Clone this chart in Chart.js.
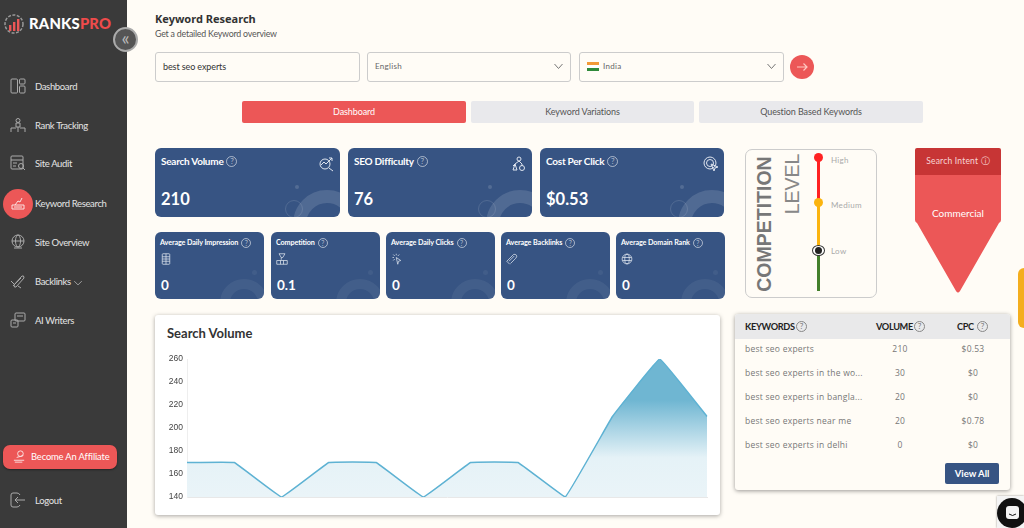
<!DOCTYPE html>
<html>
<head>
<meta charset="utf-8">
<script src="https://cdn.jsdelivr.net/npm/chart.js@4"></script>
<style>
html,body{margin:0;padding:0;}
body{width:1024px;height:528px;overflow:hidden;background:#fffcf6;font-family:Lato,sans-serif;position:relative;}
.abs,#page div,#page span,#page svg,#page canvas{position:absolute;}
.txt{white-space:nowrap;line-height:1;}
#sidebar{left:0;top:0;width:127px;height:528px;background:#3a3a3a;}
.menu{left:35px;color:#e4e4e4;font-size:9.5px;letter-spacing:-.35px;}
.box{background:#fffcf6;border:1px solid #ccc;border-radius:3px;box-sizing:border-box;}
.tab{top:101px;height:22px;border-radius:2px;font-size:9px;letter-spacing:-.1px;text-align:center;line-height:22px;background:#e9e9ec;color:#555;}
.card{background:#375483;border-radius:6px;overflow:hidden;color:#fff;}
.ring{border-radius:50%;box-sizing:border-box;border-style:solid;border-color:rgba(255,255,255,.13);}
.ringfaint{border-color:rgba(255,255,255,.06);}
.dot{border-radius:50%;background:rgba(255,255,255,.14);}
.help{border:1px solid rgba(255,255,255,.55);border-radius:50%;box-sizing:border-box;color:rgba(255,255,255,.6);text-align:center;}
.hdr{color:#222;font-size:9.2px;top:322px;font-weight:700;letter-spacing:-.35px;}
.qm{border:1px solid #888;border-radius:50%;box-sizing:border-box;color:#777;font-size:8px;width:11px;height:11px;text-align:center;line-height:9px;top:321px;}
.cell{color:#777;font-size:8.5px;font-family:"Open Sans",sans-serif;letter-spacing:.25px;}
</style>
</head>
<body>
<div id="page">
  <div id="sidebar"></div>
  <svg style="left:3px;top:13px" width="22" height="22" viewBox="0 0 22 22" fill="none">
    <circle cx="11" cy="11" r="9" stroke="#999" stroke-width="1.5" stroke-dasharray="3 1.5"/>
    <rect x="6" y="12" width="2.4" height="6" fill="#ec5757"/><rect x="10" y="9" width="2.4" height="9" fill="#ec5757"/><rect x="14" y="6" width="2.4" height="12" fill="#ec5757"/>
  </svg>
  <div class="txt" style="left:29px;top:16px;font-size:14.8px;font-weight:900;color:#fff;letter-spacing:.2px">RANKS<span style="position:static;color:#ee4b4b">PRO</span></div>
  <div style="left:113px;top:27px;width:25px;height:25px;border-radius:50%;background:#555;border:2px solid #aaa;box-sizing:border-box;color:#bbb;font-size:19px;line-height:18px;text-align:center">«</div>
  <div style="left:3px;top:189px;width:30px;height:30px;border-radius:50%;background:#ec5757"></div>
  <svg style="left:10px;top:196px" width="16" height="16" fill="none"><path d="M2 9 H14 V13 H2 Z M5 9 L8 5 L10 6 L12 2 M4 11 H12" stroke="#fbe3e3"/></svg>

  <div class="txt" style="left:155px;top:13px;font-size:11px;font-weight:700;color:#333;font-family:'Noto Sans',sans-serif">Keyword Research</div>
  <div class="txt" style="left:155px;top:30px;font-size:8.8px;color:#555;letter-spacing:-.2px">Get a detailed Keyword overview</div>

  <div class="box" style="left:155px;top:52px;width:205px;height:30px"></div>
  <div class="txt" style="left:163px;top:62px;font-size:9px;color:#333;letter-spacing:-.1px">best seo experts</div>
  <div class="box" style="left:367px;top:52px;width:204px;height:30px"></div>
  <div class="txt" style="left:375px;top:62px;font-size:8px;color:#666;letter-spacing:.3px">English</div>
  <svg style="left:553px;top:63px" width="11" height="7" fill="none"><path d="M1.5 1 L5.5 5.5 L9.5 1" stroke="#777"/></svg>
  <div class="box" style="left:579px;top:52px;width:205px;height:30px"></div>
  <div style="left:587px;top:62px;width:12px;height:3px;background:#f39a37"></div>
  <div style="left:587px;top:65px;width:12px;height:3px;background:#fff"></div>
  <div style="left:587px;top:68px;width:12px;height:3px;background:#2f8a3a"></div>
  <div class="txt" style="left:603px;top:62px;font-size:8px;color:#666;letter-spacing:.3px">India</div>
  <svg style="left:766px;top:63px" width="11" height="7" fill="none"><path d="M1.5 1 L5.5 5.5 L9.5 1" stroke="#777"/></svg>
  <div style="left:790px;top:55px;width:24px;height:24px;border-radius:50%;background:#ec5757"></div>
  <svg style="left:796px;top:61px" width="12" height="12" fill="none"><path d="M1 6 H11 M7.5 2.5 L11 6 L7.5 9.5" stroke="#ffc9c2" stroke-width="1.2"/></svg>

  <div class="tab" style="left:242px;width:224px;background:#ec5757;color:#fff">Dashboard</div>
  <div class="tab" style="left:471px;width:223px">Keyword Variations</div>
  <div class="tab" style="left:699px;width:224px">Question Based Keywords</div>

  <!-- competition level -->
  <div style="left:745px;top:149px;width:132px;height:149px;border:1px solid #ccc;border-radius:7px;box-sizing:border-box"></div>
  <div class="txt" style="left:765px;top:224px;font-size:19.5px;font-weight:700;color:#777;font-family:'Liberation Sans',sans-serif;transform:translate(-50%,-50%) rotate(-90deg);transform-origin:center">COMPETITION</div>
  <div class="txt" style="left:793px;top:184px;font-size:19.5px;color:#888;font-family:'Liberation Sans',sans-serif;transform:translate(-50%,-50%) rotate(-90deg);transform-origin:center">LEVEL</div>
  <div style="left:817px;top:157px;width:3px;height:45px;background:#f22"></div>
  <div style="left:817px;top:202px;width:3px;height:49px;background:#fbb40f"></div>
  <div style="left:817px;top:251px;width:3px;height:40px;background:#44802c"></div>
  <div style="left:814px;top:153px;width:9px;height:9px;border-radius:50%;background:#f22"></div>
  <div style="left:814px;top:198px;width:9px;height:9px;border-radius:50%;background:#fbb40f"></div>
  <div style="left:812px;top:245px;width:13px;height:11px;border-radius:50%;background:#fff;border:1px solid #333;box-sizing:border-box"></div>
  <div style="left:815px;top:247px;width:7px;height:7px;border-radius:50%;background:#222"></div>
  <div class="txt" style="left:831px;top:156px;font-size:8px;color:#aaa;letter-spacing:.3px">High</div>
  <div class="txt" style="left:831px;top:201px;font-size:8px;color:#aaa;letter-spacing:.3px">Medium</div>
  <div class="txt" style="left:831px;top:247px;font-size:8px;color:#aaa;letter-spacing:.3px">Low</div>

  <!-- search intent -->
  <svg style="left:915px;top:148px" width="86" height="146">
    <path d="M2 0 H84 Q86 0 86 2 V27 H0 V2 Q0 0 2 0 Z" fill="#c73535"/>
    <path d="M0 27 H86 V72 Q86 74 84 75 L45 143 Q43 146 41 143 L2 75 Q0 74 0 72 Z" fill="#ec5757"/>
  </svg>
  <div class="txt" style="left:915px;width:86px;text-align:center;top:157px;font-size:8.5px;color:#f8d5d5;letter-spacing:.2px">Search Intent ⓘ</div>
  <div class="txt" style="left:915px;width:86px;text-align:center;top:208px;font-size:10px;color:#fff">Commercial</div>
  <div style="left:1018px;top:268px;width:6px;height:60px;background:#f4ae1e;border-radius:6px 0 0 6px"></div>

  <!-- chart card -->
  <div style="left:155px;top:315px;width:565px;height:200px;background:#fff;box-shadow:0 1px 4px rgba(0,0,0,.35);border-radius:3px"></div>
  <div class="txt" style="left:167px;top:327px;font-size:13px;font-weight:700;color:#333">Search Volume</div>
  <canvas id="chart" width="565" height="165" style="left:155px;top:345px;width:565px;height:165px"></canvas>

  <!-- keyword table -->
  <div style="left:735px;top:314px;width:275px;height:176px;background:#fffcf6;box-shadow:0 1px 4px rgba(0,0,0,.4);border-radius:3px"></div>
  <div style="left:735px;top:314px;width:275px;height:25px;background:#e9e9ea;border-radius:3px 3px 0 0"></div>
  <div class="txt hdr" style="left:745px">KEYWORDS</div><div class="qm" style="left:796px">?</div>
  <div class="txt hdr" style="left:876px">VOLUME</div><div class="qm" style="left:914px">?</div>
  <div class="txt hdr" style="left:957px">CPC</div><div class="qm" style="left:977px">?</div>
  <div class="txt" style="left:945px;top:463px;width:54px;height:21px;background:#375483;color:#fff;border-radius:2px;font-size:9.5px;font-weight:700;text-align:center;line-height:21px">View All</div>

  <!-- recaptcha and chat bubble corner -->
  <div style="left:997px;top:496px;width:27px;height:32px;background:#f4f4f4;box-shadow:0 0 2px rgba(0,0,0,.4)"></div>
  <div style="left:997px;top:498px;width:30px;height:30px;border-radius:50%;background:#111"></div>
  <svg style="left:1005px;top:505px" width="15" height="15" fill="none"><rect x="1" y="1" width="13" height="13" rx="3" fill="#f5f5f5"/><path d="M4 9 Q7.5 12 11 9" stroke="#111"/></svg>
</div>

<script>
// chart data
let chartLabels = ["Jan","Feb","Mar","Apr","May","Jun","Jul","Aug","Sep","Oct","Nov","Dec"];
let chartValues = [170,170,140,170,170,140,170,170,140,210,260,210];
let yMin = 140;
let yMax = 260;
let yStep = 20;

// sidebar
let menuNames = ["Dashboard","Rank Tracking","Site Audit","Keyword Research","Site Overview","Backlinks","AI Writers","Logout"];
let menuRows = [87,126,164,204,243,282,321,501];

// cards
let bigNames = ["Search Volume","SEO Difficulty","Cost Per Click"];
let bigValues = ["210","76","$0.53"];
let bigLefts = [155,348,540];
let smallNames = ["Average Daily Impression","Competition","Average Daily Clicks","Average Backlinks","Average Domain Rank"];
let smallValues = ["0","0.1","0","0","0"];
let smallLefts = [155,271,386,501,616];

// table
let keywords = ["best seo experts","best seo experts in the wo...","best seo experts in bangla...","best seo experts near me","best seo experts in delhi"];
let volumes = ["210","30","20","20","0"];
let cpcs = ["$0.53","$0","$0","$0.78","$0"];
let tableRows = [350,374,398,422,446];

// outline icons, all on a 16 unit grid
let menuIcons = [
    '<rect x="1" y="1" width="6.5" height="14" rx="1"/><rect x="9.5" y="1" width="5.5" height="5" rx="1"/><rect x="9.5" y="8" width="5.5" height="7" rx="1"/>',
    '<circle cx="8" cy="3.5" r="2"/><path d="M6 6 H10 V10 H6 Z M1 15 V11 H6 M15 15 V11 H10 M8 10 V15"/>',
    '<rect x="1" y="1" width="12" height="13" rx="1"/><path d="M1 5 H13 M3 8 H7 M3 11 H6"/><circle cx="11" cy="11" r="2.5"/><path d="M13 13 L15 15"/>',
    '',
    '<circle cx="8" cy="7" r="6"/><ellipse cx="8" cy="7" rx="2.5" ry="6"/><path d="M2 7 H14 M4 14 H12"/>',
    '<path d="M3 13 L12 3 Q14 2 14 5 L6 14 Q4 15 4 12 L11 5 M1 8 L4 11 M8 13 L11 15"/>',
    '<rect x="5" y="1" width="10" height="8" rx="1"/><rect x="1" y="8" width="7" height="7" rx="1"/><path d="M7 4 H13 M3 11 H6"/>',
    '<path d="M10 3 Q9 1 7 1 H3 Q1 1 1 3 V13 Q1 15 3 15 H7 Q9 15 10 13 M15 8 H5 M8 5 L5 8 L8 11"/>'
];
let bigIcons = [
    '<circle cx="7" cy="8" r="5"/><path d="M11 12 L15 15 M3 9 L6 6 L8 8 L14 2 M11 2 H14 V5"/>',
    '<circle cx="8" cy="3" r="2"/><path d="M4 8 L8 5 L11 8 L11 10 M2 10 L4 8 L2 14 H6 L4 8"/><circle cx="11" cy="12" r="2.5"/>',
    '<circle cx="7" cy="7" r="6"/><circle cx="7" cy="7" r="3.5"/><path d="M8 8 L15 11 L12 12 L11 15 Z"/>'
];
let smallIcons = [
    '<rect x="3" y="1" width="10" height="14" rx="1"/><path d="M3 5 H13 M3 8 H13 M3 11 H13 M8 1 V15"/>',
    '<path d="M4 1 H12 L9 6 H7 Z M7 6 V9 M1 10 H15 V15 H1 Z M6 10 V15 M10 10 V15"/>',
    '<path d="M7 6 L13 10 L10 11 L9 15 Z M7 1 V3 M2 6 H4 M3 2 L5 4 M11 2 L9 4 M3 10 L5 8"/>',
    '<path d="M5 15 L1 11 L10 2 Q12 1 14 3 Q15 5 13 7 L6 14 M4 11 L11 4"/>',
    '<circle cx="8" cy="8" r="6.5"/><ellipse cx="8" cy="8" rx="3" ry="6.5"/><path d="M2 6 H14 M2 10 H14"/>'
];

let page = document.getElementById("page");

function add(css, text, cls){
    let d = document.createElement("div");
    d.style.cssText = css;
    if(cls) d.className = cls;
    if(text) d.textContent = text;
    page.appendChild(d);
    return d;
}

function addIcon(x, y, size, color, shapes){
    let svg = document.createElementNS("http://www.w3.org/2000/svg","svg");
    svg.setAttribute("width",size);
    svg.setAttribute("height",size);
    svg.setAttribute("viewBox","0 0 16 16");
    svg.setAttribute("fill","none");
    svg.setAttribute("stroke",color);
    svg.style.left = x + "px";
    svg.style.top = y + "px";
    svg.innerHTML = shapes;
    page.appendChild(svg);
}

function addToCard(card, cls, css){
    let d = document.createElement("div");
    d.className = cls;
    d.style.cssText = css;
    card.appendChild(d);
}

for(let i = 0; i < menuNames.length; i++){
    add("top:" + (menuRows[i] - 5) + "px", menuNames[i], "txt menu");
    if(menuIcons[i]) addIcon(10, menuRows[i] - 9, 16, "#aaa", menuIcons[i]);
}
add("left:3px;top:445px;width:114px;height:24px;background:#ec5757;border-radius:7px;box-shadow:0 1px 2px rgba(0,0,0,.4)");
add("left:31px;top:452px;font-size:9.4px;letter-spacing:-.15px;color:#fff", "Become An Affiliate", "txt");
addIcon(12, 449, 15, "#fbe3e3", '<circle cx="9" cy="5" r="3"/><path d="M2 12 H13 M3 14 H11 M5 9 L12 7"/>');
addIcon(73, 278, 10, "#ddd", '<path d="M2 5 L8 11 L14 5"/>');

for(let i = 0; i < bigNames.length; i++){
    let card = add("left:" + bigLefts[i] + "px;top:148px;width:" + (i == 0 ? 185 : 184) + "px;height:69px", "", "card");
    addToCard(card, "ring", "left:138px;top:42px;width:68px;height:68px;border-width:13px");
    addToCard(card, "ring", "left:130px;top:52px;width:18px;height:18px;border-width:1px");
    addToCard(card, "dot", "left:140px;top:37px;width:4px;height:4px");
    let label = add("left:" + (bigLefts[i] + 6) + "px;top:156px;font-size:10px;font-weight:700;color:#fff;letter-spacing:-.25px", bigNames[i], "txt");
    let w = label.getBoundingClientRect().width;
    add("left:" + (bigLefts[i] + 9 + w) + "px;top:156px;width:11px;height:11px;font-size:8px;line-height:9px", "?", "help");
    add("left:" + (bigLefts[i] + 6) + "px;top:191px;font-size:16.5px;font-weight:700;color:#fff", bigValues[i], "txt");
    addIcon(bigLefts[i] + 163, 156, 16, "#dfe5ef", bigIcons[i]);
}

for(let i = 0; i < smallNames.length; i++){
    let card = add("left:" + smallLefts[i] + "px;top:232px;width:109px;height:67px", "", "card");
    addToCard(card, "ring ringfaint", "left:65px;top:47px;width:48px;height:48px;border-width:10px");
    addToCard(card, "dot", "left:97px;top:38px;width:5px;height:5px;opacity:.4");
    let label = add("left:" + (smallLefts[i] + 5) + "px;top:239px;font-size:7.2px;font-weight:700;color:#fff;letter-spacing:-.1px", smallNames[i], "txt");
    let w = label.getBoundingClientRect().width;
    add("left:" + (smallLefts[i] + 8 + w) + "px;top:238px;width:10px;height:10px;font-size:7px;line-height:8px", "?", "help");
    addIcon(smallLefts[i] + 5, 253, 12, "#dfe5ef", smallIcons[i]);
    add("left:" + (smallLefts[i] + 6) + "px;top:279px;font-size:13.5px;font-weight:700;color:#fff", smallValues[i], "txt");
}

for(let i = 0; i < keywords.length; i++){
    add("left:745px;top:" + (tableRows[i] - 5) + "px", keywords[i], "txt cell");
    add("left:880px;width:40px;text-align:center;top:" + (tableRows[i] - 5) + "px", volumes[i], "txt cell");
    add("left:953px;width:40px;text-align:center;top:" + (tableRows[i] - 5) + "px", cpcs[i], "txt cell");
}

// search volume chart
let context = document.getElementById("chart").getContext("2d");
let fill = context.createLinearGradient(0, 14, 0, 151);
fill.addColorStop(0, "#6fb6d2");
fill.addColorStop(0.3, "#6fb6d2");
fill.addColorStop(0.72, "#e5f2f7");
fill.addColorStop(1, "#eaf4f8");

let chart = new Chart(context, {
    type: "line",
    data: {
        labels: chartLabels,
        datasets: [{
            data: chartValues,
            borderColor: "#5eb2d3",
            borderWidth: 1.5,
            backgroundColor: fill,
            fill: "origin",
            tension: 0.05,
            pointRadius: 0
        }]
    },
    options: {
        responsive: false,
        animation: false,
        layout: { padding: { top: 14, right: 13, bottom: 13, left: 0 } },
        plugins: { legend: { display: false }, tooltip: { enabled: false } },
        scales: {
            x: {
                ticks: { display: false },
                grid: { drawOnChartArea: false, drawTicks: false },
                border: { color: "#e8e8e8" }
            },
            y: {
                min: yMin,
                max: yMax,
                afterFit: function(scale){ scale.width = 32; },
                ticks: { stepSize: yStep, color: "#444", padding: 4, font: { family: "'Liberation Sans'", size: 8.5 } },
                grid: { drawOnChartArea: false, drawTicks: false },
                border: { color: "#eeeeee" }
            }
        }
    }
});
</script>
</body>
</html>
